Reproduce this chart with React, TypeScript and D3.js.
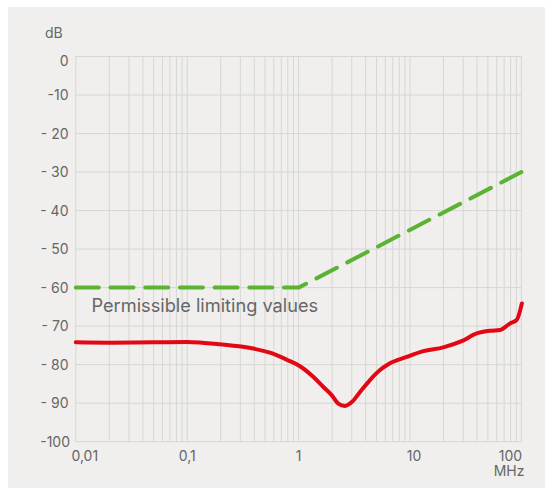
import React, { useRef, useEffect } from 'react';
import * as d3 from 'd3';

// measured curve (MHz, dB)
const freqs = [0.01, 0.0203, 0.05, 0.099, 0.197, 0.39, 0.554, 0.78, 1.03, 1.36, 1.67, 1.98, 2.27, 2.61, 3.0, 3.56, 4.37, 5.38, 6.39, 9.34, 13.2, 19.9, 29.1, 39.7, 52.3, 64.3, 79.1, 90.8, 101];
const levels = [-74.2, -74.3, -74.2, -74.1, -74.7, -75.8, -76.9, -78.7, -80.4, -83.2, -85.8, -87.9, -90.1, -90.7, -89.7, -87.1, -84.0, -81.4, -79.9, -78.0, -76.5, -75.5, -73.9, -71.9, -71.2, -71.0, -69.3, -68.4, -64.1];

// limit line (MHz, dB)
const limitFreqs = [0.01, 1, 100];
const limitLevels = [-60, -60, -30];

const yTicks = [0, -10, -20, -30, -40, -50, -60, -70, -80, -90, -100];
const yTickLabels = ['0', '-10', '- 20', '- 30', '- 40', '- 50', '- 60', '- 70', '- 80', '- 90', '-100'];
const xTicks = [0.01, 0.1, 1, 10, 100];
const xTickLabels = ['0,01', '0,1', '1', '10', '100'];

const Chart: React.FC = () => {
  const svgRef = useRef<SVGSVGElement>(null);

  useEffect(() => {
    if (!svgRef.current) return;
    const width = 545;
    const height = 488;
    const font = 'Inter, sans-serif';
    const textColor = '#666';
    const gridColor = '#d6d6d3';

    const svg = d3.select(svgRef.current);
    svg.selectAll('*').remove();
    svg.attr('width', width).attr('height', height);

    svg.append('rect')
      .attr('x', 8).attr('y', 7)
      .attr('width', width - 8).attr('height', height - 7)
      .attr('fill', '#f0efed');

    const x = d3.scaleLog().domain([0.01, 100]).range([75.8, 521.4]);
    const y = d3.scaleLinear().domain([0, -100]).range([56.5, 441.7]);

    // vertical grid, every 1..9 of each decade
    const minor: number[] = [];
    for (let e = -2; e < 2; e++) {
      for (let m = 1; m < 10; m++) minor.push(m * Math.pow(10, e));
    }
    minor.push(100);

    svg.append('g').selectAll('line')
      .data(minor)
      .enter()
      .append('line')
      .attr('x1', d => x(d)).attr('x2', d => x(d))
      .attr('y1', y(0)).attr('y2', y(-100))
      .attr('stroke', gridColor).attr('stroke-width', 1);

    svg.append('g').selectAll('line')
      .data(yTicks)
      .enter()
      .append('line')
      .attr('x1', x(0.01)).attr('x2', x(100))
      .attr('y1', d => y(d)).attr('y2', d => y(d))
      .attr('stroke', gridColor).attr('stroke-width', 1);

    // y labels
    svg.append('g').selectAll('text')
      .data(yTicks)
      .enter()
      .append('text')
      .attr('x', (d, i) => (i === yTicks.length - 1 ? 70 : 68.5))
      .attr('y', (d, i) => y(d) + (i === 0 ? 9 : 5))
      .attr('text-anchor', 'end')
      .attr('font-family', font)
      .attr('font-size', 14)
      .attr('fill', textColor)
      .text((d, i) => yTickLabels[i]);

    svg.append('text')
      .attr('x', 45).attr('y', 37.5)
      .attr('font-family', font).attr('font-size', 14)
      .attr('fill', textColor)
      .text('dB');

    // x labels
    svg.append('g').selectAll('text')
      .data(xTicks)
      .enter()
      .append('text')
      .attr('x', (d, i) => x(d) + (i === 0 ? 9 : i === xTicks.length - 1 ? -11 : i === 3 ? 4 : 0))
      .attr('y', 460.5)
      .attr('text-anchor', 'middle')
      .attr('font-family', font)
      .attr('font-size', 14)
      .attr('fill', textColor)
      .text((d, i) => xTickLabels[i]);

    svg.append('text')
      .attr('x', 524.5).attr('y', 476)
      .attr('text-anchor', 'end')
      .attr('font-family', font).attr('font-size', 14)
      .attr('fill', textColor)
      .text('MHz');

    // limit line
    const limitLine = d3.line<number>()
      .x(d => x(d))
      .y((d, i) => y(limitLevels[i]));

    svg.append('path')
      .attr('d', limitLine(limitFreqs))
      .attr('fill', 'none')
      .attr('stroke', '#5ab332')
      .attr('stroke-width', 4)
      .attr('stroke-linecap', 'round')
      .attr('stroke-linejoin', 'round')
      .attr('stroke-dasharray', '23 11.7');

    svg.append('text')
      .attr('x', 91.5).attr('y', 311.5)
      .attr('font-family', font).attr('font-size', 18.2)
      .attr('fill', textColor)
      .text('Permissible limiting values');

    // measured line
    const line = d3.line<number>()
      .x(d => x(d))
      .y((d, i) => y(levels[i]))
      .curve(d3.curveMonotoneX);

    svg.append('path')
      .attr('d', line(freqs))
      .attr('fill', 'none')
      .attr('stroke', '#e30613')
      .attr('stroke-width', 4)
      .attr('stroke-linecap', 'round')
      .attr('stroke-linejoin', 'round');
  }, []);

  return <svg ref={svgRef} style={{ position: 'absolute', left: 0, top: 0, display: 'block' }}></svg>;
};

export default function App() {
  return <Chart />;
}
